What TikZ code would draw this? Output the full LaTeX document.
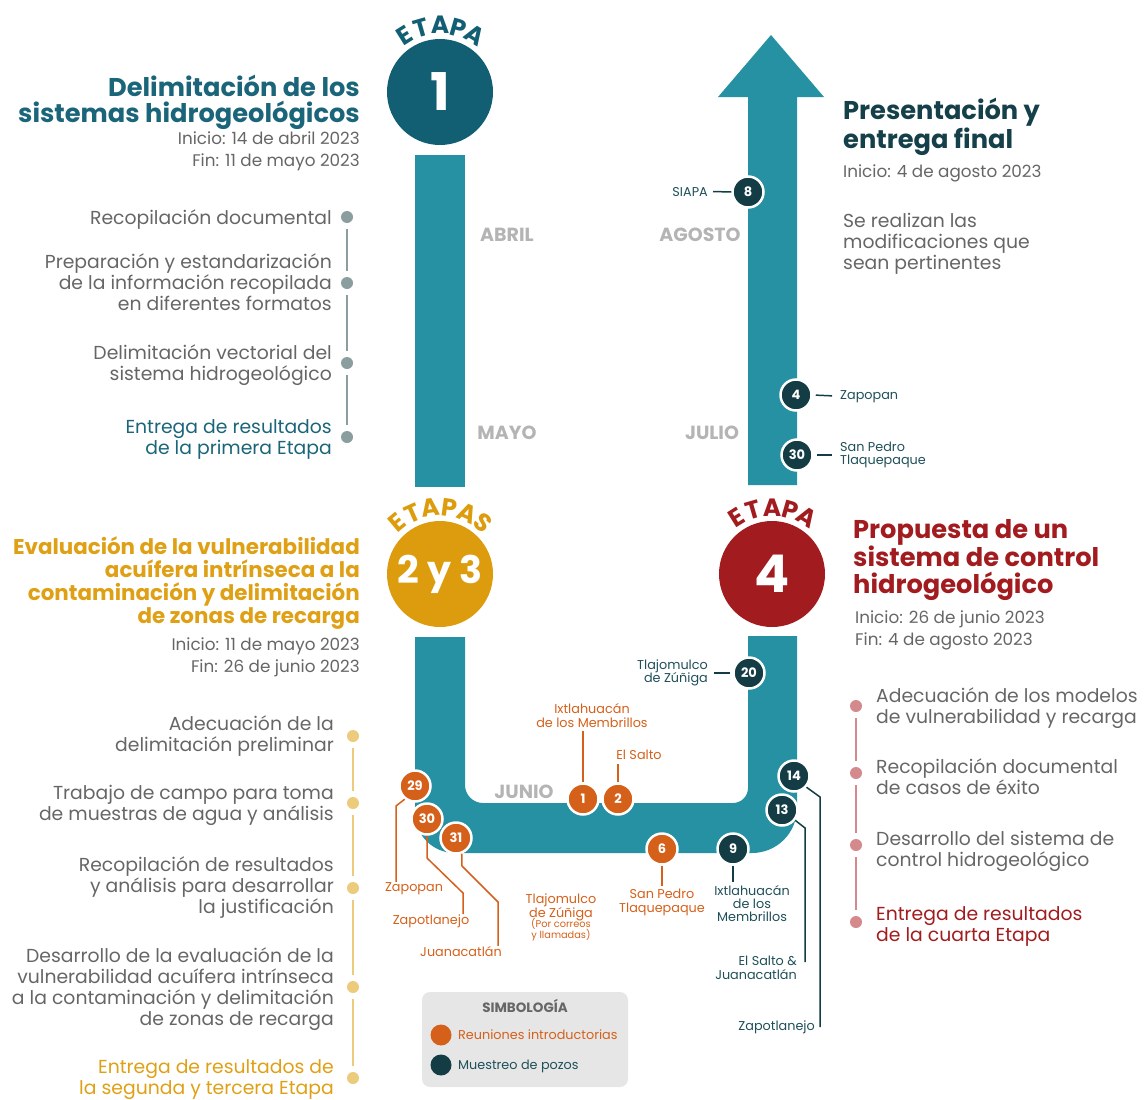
\documentclass[tikz,border=0pt]{standalone}
\usepackage{fontspec}
\setmainfont{Poppins}
\definecolor{trk}{HTML}{2591A2}
\definecolor{cone}{HTML}{125E72}
\definecolor{tone}{HTML}{1A6579}
\definecolor{gld}{HTML}{DD9C0D}
\definecolor{gldt}{HTML}{DFA015}
\definecolor{rd}{HTML}{A11B1F}
\definecolor{org}{HTML}{D5601A}
\definecolor{dk}{HTML}{133C44}
\definecolor{dkt}{HTML}{1F4F59}
\definecolor{fin}{HTML}{15404A}
\definecolor{gtx}{HTML}{666666}
\definecolor{mon}{HTML}{B4B4B4}
\definecolor{dA}{HTML}{8A9D9F}
\definecolor{dB}{HTML}{ECCB7D}
\definecolor{dC}{HTML}{D4898C}
\definecolor{lg}{HTML}{E6E6E6}
\begin{document}
\begin{tikzpicture}[x=1pt,y=1pt,
  body/.style={font=\fontsize{18.8}{21}\selectfont, text=gtx, inner sep=0pt},
  rb/.style={body, align=right, anchor=base east},
  lb/.style={body, align=left, anchor=base west},
  ttl/.style={font=\bfseries\fontsize{25.7}{26}\selectfont, inner sep=0pt},
  date/.style={font=\fontsize{16.8}{21.5}\selectfont, text=gtx, inner sep=0pt},
  big/.style={circle, minimum size=106, inner sep=0pt, text=white, font=\bfseries\fontsize{52}{52}\selectfont},
  etl/.style={font=\bfseries\fontsize{25}{25}\selectfont, inner sep=0pt, anchor=base},
  mk/.style={circle, draw=white, line width=2.5pt, minimum size=31, inner sep=0pt, text=white, font=\bfseries\fontsize{13}{13}\selectfont},
  om/.style={mk, fill=org},
  dm/.style={mk, fill=dk},
  dot/.style={circle, minimum size=12, inner sep=0pt},
  month/.style={font=\bfseries\fontsize{19}{19}\selectfont, text=mon, inner sep=0pt},
  olab/.style={font=\fontsize{12.8}{13.5}\selectfont, text=org, inner sep=0pt, align=center},
  dlab/.style={font=\fontsize{12.8}{13.5}\selectfont, text=dkt, inner sep=0pt},
  oline/.style={draw=org, line width=1.5pt},
  dline/.style={draw=dk, line width=1.5pt}
]
\useasboundingbox (0,0) rectangle (1146,-1100);

% ---------- track ----------
\fill[trk] (415,-155) rectangle (465,-487);
\fill[trk] (415,-637) -- (415,-813) arc (180:270:40) -- (752,-853) arc (270:360:45)
  -- (797,-636) -- (748,-636) -- (748,-788) arc (0:-90:15) -- (483,-803) arc (270:180:18) -- (465,-637) -- cycle;
\fill[trk] (748,-485) -- (748,-97) -- (718,-97) -- (771,-35) -- (824,-97) -- (797,-97) -- (797,-485) -- cycle;

% ---------- big circles ----------
\node[big, fill=cone] (s1) at (440,-92) {1};
\node[big, fill=gld, font=\bfseries\fontsize{38}{38}\selectfont] (s23) at (440,-574) {2 y 3};
\node[big, fill=rd] (s4) at (772,-574) {4};
\foreach \a/\l [count=\i] in {122/E,106/T,90/A,74/P,58/A}
  \node[etl, text=cone, rotate=\a-90] (ea\i) at ([shift={(\a:58)}]440,-92) {\l};
\foreach \a/\l [count=\i] in {130/E,114/T,98/A,82/P,66/A,50/S}
  \node[etl, text=gld, rotate=\a-90] (eb\i) at ([shift={(\a:58)}]440,-574) {\l};
\foreach \a/\l [count=\i] in {122/E,106/T,90/A,74/P,58/A}
  \node[etl, text=rd, rotate=\a-90] (ec\i) at ([shift={(\a:58)}]772,-574) {\l};

% ---------- months ----------
\node[month] (abril) at (507,-235) {ABRIL};
\node[month] (mayo) at (507,-433) {MAYO};
\node[month] (agosto) at (700,-235) {AGOSTO};
\node[month] (julio) at (712,-433) {JULIO};
\node[month] (junio) at (524,-792) {JUNIO};

% ---------- stage 1 ----------
\node[ttl, text=tone, align=right, anchor=base east] (t1) at (360,-122) {Delimitación de los\\sistemas hidrogeológicos};
\node[date, align=right, anchor=base east] (d1) at (360,-166) {Inicio: 14 de abril 2023\\Fin: 11 de mayo 2023};
\node[rb] (a1) at (332,-224) {Recopilación documental};
\node[rb] (a2) at (332,-310) {Preparación y estandarización\\de la información recopilada\\en diferentes formatos};
\node[rb] (a3) at (332,-380) {Delimitación vectorial del\\sistema hidrogeológico};
\node[rb, text=tone] (a4) at (332,-454) {Entrega de resultados\\de la primera Etapa};
\node[dot, fill=dA] (p1) at (347,-217) {};
\node[dot, fill=dA] (p2) at (347,-283) {};
\node[dot, fill=dA] (p3) at (347,-363) {};
\node[dot, fill=dA] (p4) at (347,-437) {};
\draw[dA, line width=1.5pt, shorten <=6pt, shorten >=6pt] (p1) -- (p2);
\draw[dA, line width=1.5pt, shorten <=6pt, shorten >=6pt] (p2) -- (p3);
\draw[dA, line width=1.5pt, shorten <=6pt, shorten >=6pt] (p3) -- (p4);

% ---------- stages 2 and 3 ----------
\node[font=\bfseries\fontsize{21.4}{23}\selectfont, inner sep=0pt, text=gldt, align=right, anchor=base east] (t23) at (360,-623) {Evaluación de la vulnerabilidad\\acuífera intrínseca a la\\contaminación y delimitación\\de zonas de recarga};
\node[date, align=right, anchor=base east] (d23) at (360,-672) {Inicio: 11 de mayo 2023\\Fin: 26 de junio 2023};
\node[rb] (b1) at (334,-751) {Adecuación de la\\delimitación preliminar};
\node[rb] (b2) at (334,-820) {Trabajo de campo para toma\\de muestras de agua y análisis};
\node[rb] (b3) at (334,-913) {Recopilación de resultados\\y análisis para desarrollar\\la justificación};
\node[rb] (b4) at (334,-1025) {Desarrollo de la evaluación de la\\vulnerabilidad acuífera intrínseca\\a la contaminación y delimitación\\de zonas de recarga};
\node[rb, text=gldt] (b5) at (334,-1094) {Entrega de resultados de\\la segunda y tercera Etapa};
\node[dot, fill=dB] (q1) at (353,-736) {};
\node[dot, fill=dB] (q2) at (353,-803) {};
\node[dot, fill=dB] (q3) at (353,-888) {};
\node[dot, fill=dB] (q4) at (353,-987) {};
\node[dot, fill=dB] (q5) at (353,-1078) {};
\draw[dB, line width=1.5pt, shorten <=6pt, shorten >=6pt] (q1) -- (q2);
\draw[dB, line width=1.5pt, shorten <=6pt, shorten >=6pt] (q2) -- (q3);
\draw[dB, line width=1.5pt, shorten <=6pt, shorten >=6pt] (q3) -- (q4);
\draw[dB, line width=1.5pt, shorten <=6pt, shorten >=6pt] (q4) -- (q5);

% ---------- stage 4 ----------
\node[ttl, text=rd, align=left, anchor=base west, font=\bfseries\fontsize{25.7}{26.5}\selectfont] (t4) at (853,-593) {Propuesta de un\\sistema de control\\hidrogeológico};
\node[date, align=left, anchor=base west] (d4) at (855,-645) {Inicio: 26 de junio 2023\\Fin: 4 de agosto 2023};
\node[lb] (c1) at (876,-723) {Adecuación de los modelos\\de vulnerabilidad y recarga};
\node[lb] (c2) at (876,-794) {Recopilación documental\\de casos de éxito};
\node[lb] (c3) at (876,-866) {Desarrollo del sistema de\\control hidrogeológico};
\node[lb, text=rd] (c4) at (876,-941) {Entrega de resultados\\de la cuarta Etapa};
\node[dot, fill=dC] (r1) at (856,-706) {};
\node[dot, fill=dC] (r2) at (856,-773) {};
\node[dot, fill=dC] (r3) at (856,-845) {};
\node[dot, fill=dC] (r4) at (856,-922) {};
\draw[dC, line width=1.5pt, shorten <=6pt, shorten >=6pt] (r1) -- (r2);
\draw[dC, line width=1.5pt, shorten <=6pt, shorten >=6pt] (r2) -- (r3);
\draw[dC, line width=1.5pt, shorten <=6pt, shorten >=6pt] (r3) -- (r4);

% ---------- final ----------
\node[ttl, text=fin, align=left, anchor=base west] (tf) at (843,-148) {Presentación y\\entrega final};
\node[date, anchor=base west] (df) at (843,-177) {Inicio: 4 de agosto 2023};
\node[lb] (ef) at (843,-269) {Se realizan las\\modificaciones que\\sean pertinentes};

% ---------- markers ----------
\node[om] (m29) at (415,-786) {29};
\node[om] (m30) at (427,-819) {30};
\node[om] (m31) at (456,-838) {31};
\node[om] (m1) at (583,-799) {1};
\node[om] (m2) at (618,-799) {2};
\node[om] (m6) at (662,-849) {6};
\node[dm] (m9) at (733,-849) {9};
\node[dm] (m13) at (782,-810) {13};
\node[dm] (m14) at (794,-776) {14};
\node[dm] (m20) at (749,-673) {20};
\node[dm] (m30b) at (797,-455) {30};
\node[dm] (m4) at (796,-395) {4};
\node[dm] (m8) at (748,-192) {8};

% ---------- marker labels ----------
\node[dlab, anchor=base east] (siapa) at (708,-196) {SIAPA};
\draw[dline] (siapa.east) ++(5,0) -- (m8.west);
\node[dlab, anchor=base west] (zap4) at (840,-399) {Zapopan};
\draw[dline, shorten <=3pt, shorten >=8pt] (m4.east) -- (zap4.west);
\node[dlab, anchor=west, align=left] (sp30) at (840,-455) {San Pedro\\Tlaquepaque};
\draw[dline, shorten <=3pt, shorten >=8pt] (m30b.east) -- (sp30.west);
\node[dlab, anchor=east, align=right] (tz20) at (708,-673) {Tlajomulco\\de Zúñiga};
\draw[dline, shorten <=6pt, shorten >=2pt] (tz20.east) -- (m20.west);

\node[olab, anchor=base] (ix1) at (592,-727) {Ixtlahuacán\\de los Membrillos};
\draw[oline, shorten >=4pt] (m1.north) -- (m1.north |- ix1.south);
\node[olab, anchor=base] (es2) at (639,-759) {El Salto};
\draw[oline, shorten >=5pt] (m2.north) -- (m2.north |- es2.south);

\node[olab, anchor=base] (zap29) at (414,-891) {Zapopan};
\draw[oline] (m29.232) -- (396,-806) -- (396,-806 |- zap29.north);
\node[olab, anchor=base] (zpt30) at (431,-924) {Zapotlanejo};
\draw[oline] (m30.south) -- (427,-858) -- (463,-893) -- (463,-893 |- zpt30.north);
\node[olab, anchor=base] (jua31) at (461,-956) {Juanacatlán};
\draw[oline] (m31.290) -- (462,-866) -- (498,-902) -- (498,-902 |- jua31.north);

\node[olab, anchor=base] (tz) at (561,-938) {Tlajomulco\\de Zúñiga\\[-3pt]{\fontsize{9.8}{12}\selectfont (Por correos}\\[-3pt]{\fontsize{9.8}{12}\selectfont y llamadas)}};
\node[olab, anchor=base] (sp6) at (662,-912) {San Pedro\\Tlaquepaque};
\draw[oline, shorten >=3pt] (m6.south) -- (m6.south |- sp6.north);

\node[dlab, anchor=base, align=center, font=\fontsize{12.8}{12.8}\selectfont] (ix9) at (752,-921) {Ixtlahuacán\\de los\\Membrillos};
\draw[dline, shorten >=3pt] (m9.south) -- (m9.south |- ix9.north);
\node[dlab, anchor=base east, align=right] (es13) at (797,-979) {El Salto \&\\Juanacatlán};
\coordinate (e13) at (805,-962);
\draw[dline] (m13.322) -- (805,-828) -- (e13);
\node[dlab, anchor=base east] (zpt14) at (815,-1030) {Zapotlanejo};
\coordinate (e14) at (820,-1027);
\draw[dline] (m14.318) -- (820,-797) -- (e14);

% ---------- legend ----------
\node[fill=lg, rounded corners=8pt, minimum width=206, minimum height=95, inner sep=0pt] (leg) at (525,-1039.5) {};
\node[font=\bfseries\fontsize{13.5}{13.5}\selectfont, text=gtx, inner sep=0pt, anchor=base] (simb) at (525,-1012) {SIMBOLOGÍA};
\node[circle, fill=org, minimum size=21, inner sep=0pt] (lo) at (441,-1035) {};
\node[font=\fontsize{12.8}{13}\selectfont, text=org, inner sep=0pt, anchor=base west] (lot) at (458,-1039) {Reuniones introductorias};
\node[circle, fill=dk, minimum size=21, inner sep=0pt] (ld) at (441,-1065) {};
\node[font=\fontsize{12.8}{13}\selectfont, text=dkt, inner sep=0pt, anchor=base west] (ldt) at (458,-1069) {Muestreo de pozos};
\end{tikzpicture}
\end{document}
